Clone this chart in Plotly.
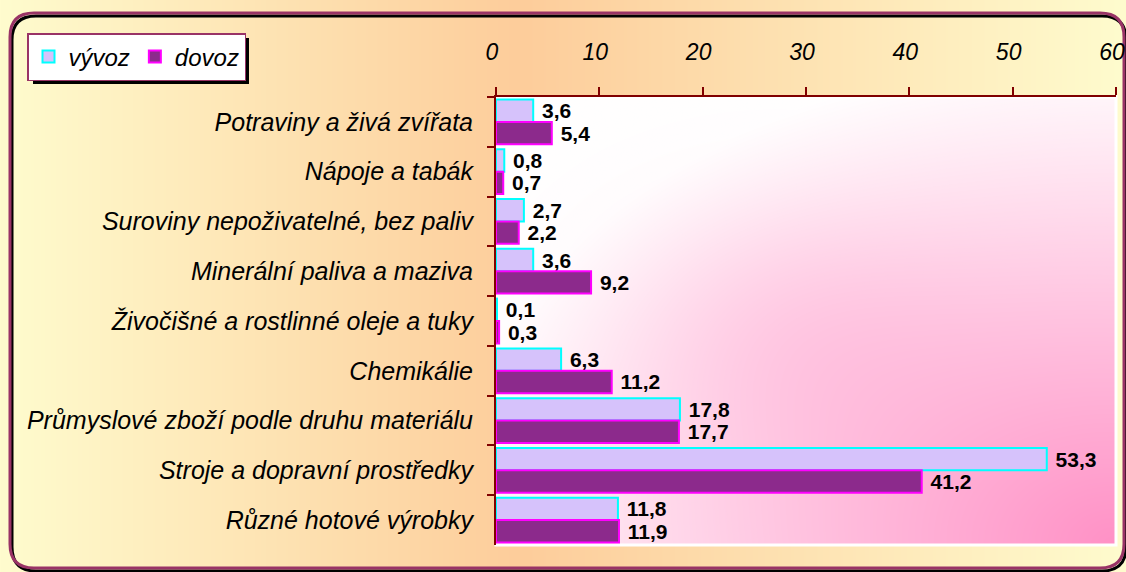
import base64
import struct
import zlib

import numpy as np
import plotly.graph_objects as go

kategorie = [
    "Potraviny a živá zvířata",
    "Nápoje a tabák",
    "Suroviny nepoživatelné, bez paliv",
    "Minerální paliva a maziva",
    "Živočišné a rostlinné oleje a tuky",
    "Chemikálie",
    "Průmyslové zboží podle druhu materiálu",
    "Stroje a dopravní prostředky",
    "Různé hotové výrobky",
]
vyvoz = [3.6, 0.8, 2.7, 3.6, 0.1, 6.3, 17.8, 53.3, 11.8]
dovoz = [5.4, 0.7, 2.2, 9.2, 0.3, 11.2, 17.7, 41.2, 11.9]
x_ticks = [0, 10, 20, 30, 40, 50, 60]

W, H = 1126, 572
L, T, PW, PH = 496, 97, 620, 448


def px(x):
    return (x - L) / PW


def py(y):
    return (T + PH - y) / PH


def png_uri(arr):
    h, w, _ = arr.shape
    raw = b"".join(b"\x00" + arr[i].tobytes() for i in range(h))

    def chunk(tag, data):
        c = struct.pack(">I", len(data)) + tag + data
        return c + struct.pack(">I", zlib.crc32(tag + data) & 0xFFFFFFFF)

    png = (b"\x89PNG\r\n\x1a\n"
           + chunk(b"IHDR", struct.pack(">IIBBBBB", w, h, 8, 2, 0, 0, 0))
           + chunk(b"IDAT", zlib.compress(raw, 9))
           + chunk(b"IEND", b""))
    return "data:image/png;base64," + base64.b64encode(png).decode()


# pozadí: žlutá -> broskvová -> žlutá
yellow = np.array([255, 252, 206], float)
peach = np.array([253, 205, 155], float)
xs = np.arange(W)
peak = 520
t = np.where(xs < peak, 1 - (peak - xs) / peak, 1 - (xs - peak) / (W - peak))
row = yellow[None, :] * (1 - t[:, None]) + peach[None, :] * t[:, None]
bg = np.repeat(row[None, :, :], H, axis=0).astype(np.uint8)

# plocha grafu: bílá -> růžová k pravému dolnímu rohu
pink = np.array([255, 145, 198], float)
u = np.linspace(0, 1, PW)[None, :]
v = np.linspace(0, 1, PH)[:, None]
d = np.sqrt((1 - u) ** 2 + (1 - v) ** 2)
tt = np.clip(1 - d / 1.1, 0, 1) + 0.15 * np.exp(-((u - 0.45) ** 2 + (v - 0.5) ** 2) / 0.08)
tt = np.clip(tt, 0, 1)
plot_img = (255 * (1 - tt[..., None]) + pink * tt[..., None]).astype(np.uint8)


def rounded(x0, y0, x1, y1, r):
    s = f"M{px(x0 + r)},{py(y0)} L{px(x1 - r)},{py(y0)} "
    s += f"Q{px(x1)},{py(y0)} {px(x1)},{py(y0 + r)} "
    s += f"L{px(x1)},{py(y1 - r)} Q{px(x1)},{py(y1)} {px(x1 - r)},{py(y1)} "
    s += f"L{px(x0 + r)},{py(y1)} Q{px(x0)},{py(y1)} {px(x0)},{py(y1 - r)} "
    s += f"L{px(x0)},{py(y0 + r)} Q{px(x0)},{py(y0)} {px(x0 + r)},{py(y0)} Z"
    return s


label_font = dict(family="Liberation Sans, Arial", size=21, color="black", weight="bold")

fig = go.Figure()
fig.add_trace(go.Bar(
    y=kategorie, x=vyvoz, name="vývoz", orientation="h",
    marker=dict(color="#d6c2fb", line=dict(color="#00ffff", width=2)),
    texttemplate="\u00a0%{x:.1f}", textposition="outside", textfont=label_font,
    constraintext="none", cliponaxis=False, hoverinfo="skip",
))
fig.add_trace(go.Bar(
    y=kategorie, x=dovoz, name="dovoz", orientation="h",
    marker=dict(color="#8c2a8c", line=dict(color="#ff00ff", width=2)),
    texttemplate="\u00a0%{x:.1f}", textposition="outside", textfont=label_font,
    constraintext="none", cliponaxis=False, hoverinfo="skip",
))

fig.update_layout(
    width=W, height=H,
    margin=dict(l=L, r=W - L - PW, t=T, b=H - T - PH, pad=0, autoexpand=False),
    paper_bgcolor="white", plot_bgcolor="rgba(0,0,0,0)",
    separators=", ",
    barmode="group", bargap=0.1, bargroupgap=0,
    font=dict(family="Liberation Sans, Arial", size=22, color="black"),
    showlegend=True,
    legend=dict(
        orientation="h", xref="container", yref="container",
        x=27 / W, y=1 - 33 / H, xanchor="left", yanchor="top",
        bgcolor="white", bordercolor="#993366", borderwidth=1.5,
        font=dict(size=24, style="italic"), traceorder="normal",
    ),
    images=[
        dict(source=png_uri(bg), xref="paper", yref="paper", x=px(0), y=py(0),
             sizex=W / PW, sizey=H / PH, sizing="stretch",
             xanchor="left", yanchor="top", layer="below"),
        dict(source=png_uri(plot_img), xref="paper", yref="paper", x=0, y=1,
             sizex=1, sizey=1, sizing="stretch",
             xanchor="left", yanchor="top", layer="below"),
    ],
    shapes=[
        dict(type="path", path=rounded(12, 16, 1126, 571, 24), xref="paper", yref="paper",
             line=dict(color="black", width=3), layer="below"),
        dict(type="path", path=rounded(10, 13, 1124, 568, 24), xref="paper", yref="paper",
             line=dict(color="#993366", width=3), layer="below"),
        dict(type="rect", xref="paper", yref="paper", x0=0, x1=1, y0=0, y1=1,
             line=dict(color="white", width=3), layer="below"),
        dict(type="rect", xref="paper", yref="paper",
             x0=px(33), x1=px(249), y0=py(84), y1=py(38),
             fillcolor="black", line=dict(width=0), layer="above"),
    ],
)

fig.update_xaxes(
    side="top", range=[0, 60], tickvals=x_ticks, showgrid=False, zeroline=False,
    showline=True, linecolor="#800000", linewidth=2,
    ticks="outside", ticklen=8, tickwidth=2, tickcolor="#800000",
    tickfont=dict(size=23, style="italic"), ticklabelstandoff=18, ticklabelshift=-4,
    ticklabeloverflow="allow", fixedrange=True,
)
fig.update_yaxes(
    autorange="reversed", showgrid=False, zeroline=False,
    showline=True, linecolor="#800000", linewidth=2,
    ticks="outside", ticklen=7, tickwidth=2, tickcolor="#800000", tickson="boundaries",
    tickfont=dict(size=25, style="italic"), ticklabelstandoff=16,
    fixedrange=True,
)

fig.write_html("out.html", config={"displayModeBar": False},
               post_script="document.body.style.margin='0';")
